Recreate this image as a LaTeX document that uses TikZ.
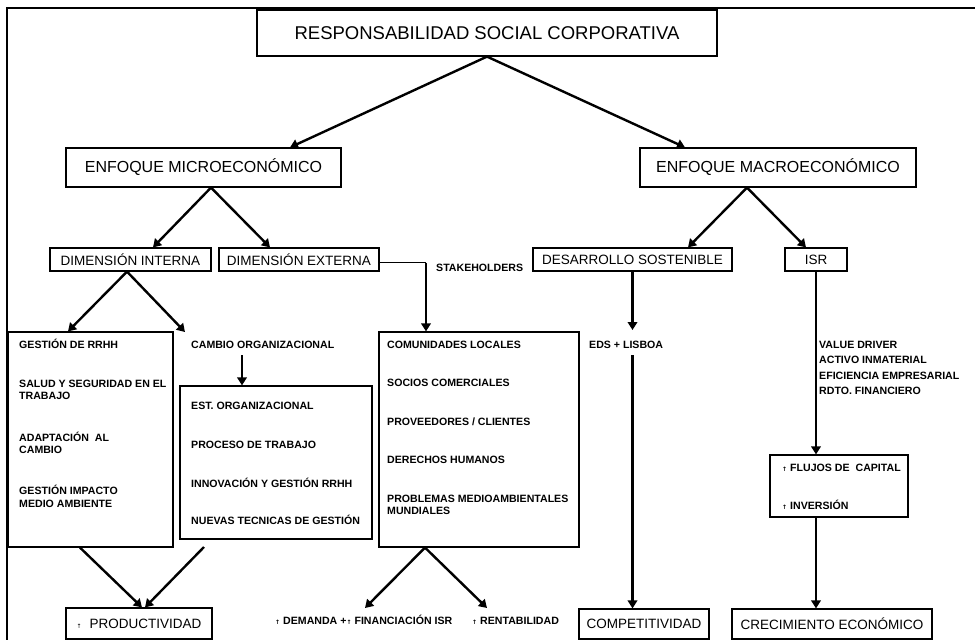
\documentclass[tikz,border=0pt]{standalone}
\usepackage{fontspec}
\setmainfont{Liberation Sans}
\newfontfamily\arrfont{DejaVu Sans}
\usetikzlibrary{arrows.meta}
\newcommand\uparr{{\arrfont\fontsize{6}{6}\selectfont ↑}}
\begin{document}
\begin{tikzpicture}[x=1pt,y=-1pt,
  box/.style={draw, line width=1.2pt, inner sep=0pt, fill=white},
  bigA/.style={font=\fontsize{18.5}{20}\selectfont},
  bigB/.style={font=\fontsize{16}{18}\selectfont},
  bigC/.style={font=\fontsize{13.5}{15}\selectfont},
  sm/.style={font=\fontsize{10.6}{12}\selectfont\bfseries, inner sep=0pt, anchor=base west},
  conn/.style={line width=2.4pt, -{Triangle[length=8pt,width=9.5pt]}},
  plain/.style={line width=2.4pt}]
\useasboundingbox (0,0) rectangle (975,640);
\fill[white] (0,0) rectangle (975,640);
% outer frame
\draw[line width=2pt] (7,640) -- (7,8) -- (975,8);

% main boxes
\node[box, bigA, minimum width=460pt, minimum height=46pt] (top) at (487,33) {RESPONSABILIDAD SOCIAL CORPORATIVA};
\node[box, bigB, minimum width=275pt, minimum height=39pt] (micro) at (203.5,167.5) {ENFOQUE MICROECONÓMICO};
\node[box, bigB, minimum width=276pt, minimum height=39pt] (macro) at (778,167.5) {ENFOQUE MACROECONÓMICO};
\node[box, bigC, minimum width=161pt, minimum height=23pt] (interna) at (130.5,259.5) {DIMENSIÓN INTERNA};
\node[box, bigC, minimum width=160pt, minimum height=23pt] (externa) at (299,259.5) {DIMENSIÓN EXTERNA};
\node[box, bigC, minimum width=199pt, minimum height=23pt] (desa) at (632.5,259.5) {DESARROLLO SOSTENIBLE};
\node[box, bigC, minimum width=62pt, minimum height=23pt] (isr) at (816,259.5) {ISR};

% content boxes
\node[box, minimum width=165pt, minimum height=215pt] (leftbox) at (90.5,439.5) {};
\node[box, minimum width=192pt, minimum height=153pt] (orgbox) at (276,462.5) {};
\node[box, minimum width=200pt, minimum height=215pt] (comun) at (479,439.5) {};
\node[box, minimum width=138pt, minimum height=62pt] (flujos) at (839,486) {};

% bottom boxes
\node[box, bigC, minimum width=146pt, minimum height=31pt] (prod) at (139,623.5) {\uparr\hspace{8pt}PRODUCTIVIDAD};
\node[box, bigC, minimum width=130pt, minimum height=30pt] (compet) at (644,624) {COMPETITIVIDAD};
\node[box, bigC, minimum width=200pt, minimum height=30pt] (crec) at (832,624) {CRECIMIENTO ECONÓMICO};

% texts
\node[sm] (cambio) at (191,348) {CAMBIO ORGANIZACIONAL};
\node[sm] (l1) at (19,348) {GESTIÓN DE RRHH};
\node[sm] (l2a) at (19,387) {SALUD Y SEGURIDAD EN EL};
\node[sm] (l2b) at (19,399) {TRABAJO};
\node[sm] (l3a) at (19,441) {ADAPTACIÓN\ \ AL};
\node[sm] (l3b) at (19,453) {CAMBIO};
\node[sm] (l4a) at (19,494) {GESTIÓN IMPACTO};
\node[sm] (l4b) at (19,507) {MEDIO AMBIENTE};
\node[sm] (o1) at (191,409) {EST. ORGANIZACIONAL};
\node[sm] (o2) at (191,448) {PROCESO DE TRABAJO};
\node[sm] (o3) at (191,487) {INNOVACIÓN Y GESTIÓN RRHH};
\node[sm] (o4) at (191,524) {NUEVAS TECNICAS DE GESTIÓN};
\node[sm] (c1) at (387,348) {COMUNIDADES LOCALES};
\node[sm] (c2) at (387,386) {SOCIOS COMERCIALES};
\node[sm] (c3) at (387,425) {PROVEEDORES / CLIENTES};
\node[sm] (c4) at (387,463) {DERECHOS HUMANOS};
\node[sm] (c5a) at (387,502) {PROBLEMAS MEDIOAMBIENTALES};
\node[sm] (c5b) at (387,514) {MUNDIALES};
\node[sm] (stake) at (436,271) {STAKEHOLDERS};
\node[sm] (eds) at (589,348) {EDS + LISBOA};
\node[sm] (v1) at (819,348) {VALUE DRIVER};
\node[sm] (v2) at (819,363) {ACTIVO INMATERIAL};
\node[sm] (v3) at (819,379) {EFICIENCIA EMPRESARIAL};
\node[sm] (v4) at (819,394) {RDTO. FINANCIERO};
\node[sm] (f1) at (782,471) {\uparr\hspace{3pt}FLUJOS DE\ \ CAPITAL};
\node[sm] (f2) at (782,509) {\uparr\hspace{3pt}INVERSIÓN};
\node[sm] (dem) at (275,624) {\uparr\hspace{3pt}DEMANDA +\uparr\hspace{3pt}FINANCIACIÓN ISR};
\node[sm] (rent) at (472,624) {\uparr\hspace{3pt}RENTABILIDAD};

% free connector ends
\coordinate (cambioend) at (185,332);
\coordinate (cambiostart) at (242,355);
\coordinate (edstip) at (632.5,330);
\coordinate (edsstart) at (632.5,355);
\coordinate (orgout) at (204,547);
\coordinate (demtip) at (365,608);
\coordinate (renttip) at (487,608);

% connectors
\draw[conn] (top.south) -- ([xshift=86.5pt]micro.north);
\draw[conn] (top.south) -- ([xshift=-93pt]macro.north);
\draw[conn] ([xshift=7.5pt]micro.south) -- ([xshift=22.5pt]interna.north);
\draw[conn] ([xshift=7.5pt]micro.south) -- ([xshift=-29pt]externa.north);
\draw[conn] ([xshift=-31pt]macro.south) -- ([xshift=55.5pt]desa.north);
\draw[conn] ([xshift=-31pt]macro.south) -- ([xshift=-10pt]isr.north);
\draw[conn] ([xshift=-3.5pt]interna.south) -- ([xshift=-22.5pt]leftbox.north);
\draw[conn] ([xshift=-3.5pt]interna.south) -- (cambioend);
\draw[conn] (cambiostart) -- (cambiostart |- orgbox.north);
\draw[line width=1.2pt] ([yshift=-3pt]externa.east) -- ([yshift=-3pt,xshift=-53pt]externa.east -| comun.north);
\draw[conn] ([yshift=-3pt,xshift=-53pt]externa.east -| comun.north) -- ([xshift=-53pt]comun.north);
\draw[conn] (desa.south) -- (edstip);
\draw[conn] (edsstart) -- (edsstart |- compet.north);
\draw[conn] (isr.south) -- (isr.south |- flujos.north);
\draw[conn] (isr.south |- flujos.south) -- (isr.south |- crec.north);
\draw[conn] ([xshift=-10.5pt]leftbox.south) -- ([xshift=3pt]prod.north);
\draw[conn] (orgout) -- ([xshift=6pt]prod.north);
\draw[conn] ([xshift=-54pt]comun.south) -- (demtip);
\draw[conn] ([xshift=-54pt]comun.south) -- (renttip);
\end{tikzpicture}
\end{document}
